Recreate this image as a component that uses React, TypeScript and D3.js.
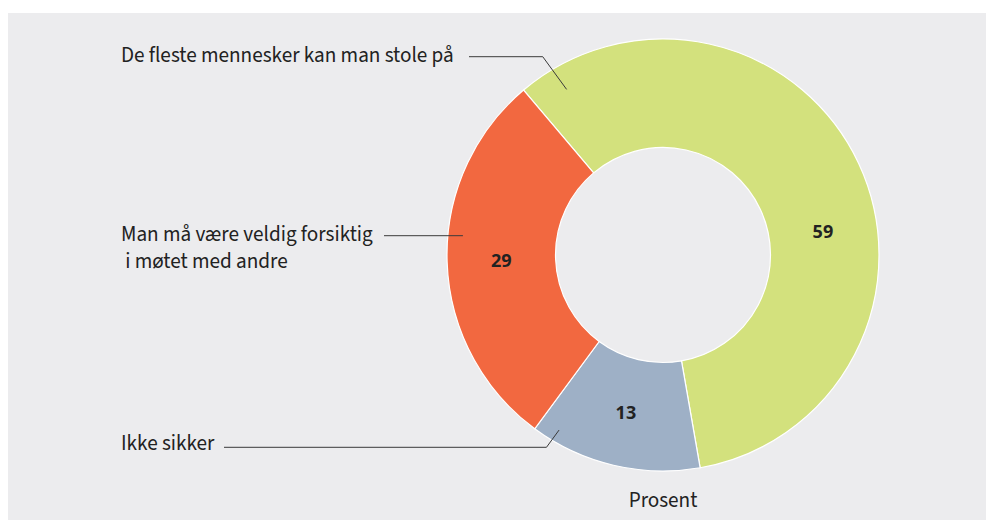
import React from 'react';
import * as d3 from 'd3';

// Tillit til andre mennesker (prosent)
const categories = [
  'De fleste mennesker kan man stole på',
  'Ikke sikker',
  'Man må være veldig forsiktig i møtet med andre',
];
const values = [59, 13, 29];
const colors = ['#d3e17d', '#9eb0c6', '#f26840'];
const labelLines = [
  ['De fleste mennesker kan man stole på'],
  ['Ikke sikker'],
  ['Man må være veldig forsiktig', ' i møtet med andre'],
];
const unitLabel = 'Prosent';

const W = 986;
const H = 520;
const cx = 663;
const cy = 255;
const outerR = 216;
const innerR = 107.5;
const rad = (deg: number) => (deg * Math.PI) / 180;

// label / leader layout per slice (same order as values)
const layout = [
  { textY: 62, lineStart: 469, lineY: 56.7, anchorDeg: -30.2, anchorR: 191.6, valueDegShift: 16.4 },
  { textY: 450, lineStart: 224, lineY: 447.3, anchorDeg: 210.7, anchorR: 203.6, valueDegShift: 0 },
  { textY: 241, lineStart: 384, lineY: 235.7, anchorDeg: 275.5, anchorR: 201, valueDegShift: 0 },
];
const lineGap = 27;

const font = "'Source Sans Pro', 'Source Sans 3', 'Open Sans', sans-serif";
const valueFont = "'Liberation Sans Narrow', 'Source Sans Pro', 'Open Sans', sans-serif";

const App: React.FC = () => {
  const start = rad(-40.2);
  const pie = d3
    .pie<number>()
    .sort(null)
    .value((d) => d)
    .startAngle(start)
    .endAngle(start + Math.PI * 2);
  const arcs = pie(values);
  const arc = d3.arc<d3.PieArcDatum<number>>().innerRadius(innerR).outerRadius(outerR);
  const midR = (innerR + outerR) / 2;

  return (
    <svg
      width={W}
      height={H}
      style={{ position: 'absolute', left: 0, top: 0, display: 'block' }}
      fontFamily={font}
    >
      <rect x={8} y={13} width={W - 8} height={H - 13} fill="#ececee" />
      <g transform={`translate(${cx},${cy})`}>
        {arcs.map((a, i) => (
          <path key={categories[i]} d={arc(a) || ''} fill={colors[i]} stroke="#ffffff" strokeWidth={1.2} />
        ))}
        {arcs.map((a, i) => {
          const ang = (a.startAngle + a.endAngle) / 2 + rad(layout[i].valueDegShift);
          return (
            <text
              key={'v' + i}
              x={midR * Math.sin(ang)}
              y={-midR * Math.cos(ang)}
              textAnchor="middle"
              dominantBaseline="central"
              fontFamily={valueFont}
              fontSize={18}
              fontWeight="bold"
              fill="#222"
            >
              {values[i]}
            </text>
          );
        })}
      </g>
      {layout.map((l, i) => {
        const ax = cx + l.anchorR * Math.sin(rad(l.anchorDeg));
        const ay = cy - l.anchorR * Math.cos(rad(l.anchorDeg));
        const elbowX = ax - Math.abs(ay - l.lineY) * 0.73;
        const pts: [number, number][] = [
          [l.lineStart, l.lineY],
          [elbowX, l.lineY],
          [ax, ay],
        ];
        return (
          <g key={'l' + i}>
            <path d={d3.line()(pts) || ''} fill="none" stroke="#3a3a3a" strokeWidth={1} />
            <text x={121} y={l.textY} fontSize={21.2} fill="#222" style={{ whiteSpace: 'pre' }}>
              {labelLines[i].map((t, j) => (
                <tspan key={j} x={121} y={l.textY + j * lineGap}>
                  {t}
                </tspan>
              ))}
            </text>
          </g>
        );
      })}
      <text x={663} y={507} textAnchor="middle" fontSize={21.2} fill="#222">
        {unitLabel}
      </text>
    </svg>
  );
};

export default App;
